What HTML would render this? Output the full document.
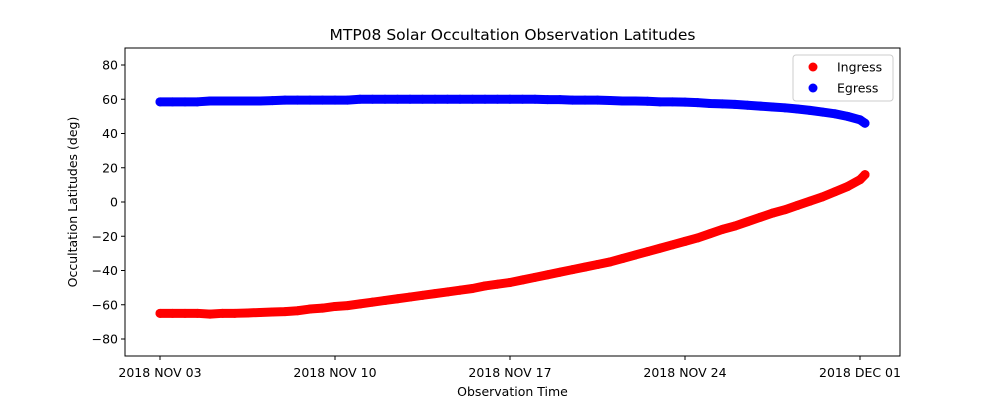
<!DOCTYPE html>
<html><head><meta charset="utf-8"><style>
body{margin:0;background:#fff;}
svg{display:block;font-family:"DejaVu Sans","Liberation Sans",sans-serif;}
</style></head><body>
<svg id="chart" width="1000" height="400"></svg>
<script>
const days = [0,0.5,1,1.5,2,2.5,3,3.5,4,4.5,5,5.5,6,6.5,7,7.5,8,8.5,9,9.5,10,10.5,11,11.5,12,12.5,13,13.5,14,14.5,15,15.5,16,16.5,17,17.5,18,18.5,19,19.5,20,20.5,21,21.5,22,22.5,23,23.5,24,24.5,25,25.5,26,26.5,27,27.5,28,28.2];
const ingress = [-65,-65,-65,-65,-65.5,-65,-65,-64.8,-64.5,-64.2,-64,-63.5,-62.5,-62,-61,-60.5,-59.5,-58.5,-57.5,-56.5,-55.5,-54.5,-53.5,-52.5,-51.5,-50.5,-49,-48,-47,-45.5,-44,-42.5,-41,-39.5,-38,-36.5,-35,-33,-31,-29,-27,-25,-23,-21,-18.5,-16,-14,-11.5,-9,-6.5,-4.5,-2,0.5,3,6,9,13,16];
const egress = [58.5,58.5,58.5,58.5,59,59,59,59,59,59.2,59.5,59.5,59.5,59.5,59.5,59.5,60,60,60,60,60,60,60,60,60,60,60,60,60,60,60,59.8,59.8,59.5,59.5,59.5,59.3,59,59,58.8,58.5,58.5,58.3,58,57.5,57.3,57,56.5,56,55.5,55,54.3,53.5,52.5,51.5,50,48,46];
const yTicks = [-80,-60,-40,-20,0,20,40,60,80];
const xTickDays = [0,7,14,21,28];
const xTickLabels = ["2018 NOV 03","2018 NOV 10","2018 NOV 17","2018 NOV 24","2018 DEC 01"];

const NS="http://www.w3.org/2000/svg";
const svg=document.getElementById('chart');
const L=125,R=900,T=48,B=356;
const x=d=>160+d*25;
const y=v=>202-v*1.7125;
function mk(tag,attrs,parent){const e=document.createElementNS(NS,tag);for(const k in attrs)e.setAttribute(k,attrs[k]);(parent||svg).appendChild(e);return e;}

const title=mk('text',{x:512.5,y:40,'text-anchor':'middle','font-size':15.5,fill:'#000'});
title.textContent='MTP08 Solar Occultation Observation Latitudes';



yTicks.forEach(v=>{
  const g=mk('g',{});
  
  
  mk('line',{x1:L-4,x2:L,y1:y(v),y2:y(v),stroke:'#000'},g);
  const t=mk('text',{x:L-7,y:y(v)+4.5,'text-anchor':'end','font-size':12.5},g);
  t.textContent=v<0?'\u2212'+Math.abs(v):String(v);
});
xTickDays.forEach((d,i)=>{
  const g=mk('g',{});
  
  
  mk('line',{x1:x(d),x2:x(d),y1:B,y2:B+4,stroke:'#000'},g);
  const t=mk('text',{x:x(d),y:B+21,'text-anchor':'middle','font-size':12.5},g);
  t.textContent=xTickLabels[i];
});
const xl=mk('text',{x:512.5,y:396,'text-anchor':'middle','font-size':12.5});
xl.textContent='Observation Time';


const yl=mk('text',{x:77,y:202,'text-anchor':'middle','font-size':12.5,transform:'rotate(-90 77 202)'});
yl.textContent='Occultation Latitudes (deg)';



function series(vals,color,name){
  const g=mk('g',{fill:color});
  
  
  const pts=days.map((d,i)=>x(d)+','+y(vals[i])).join(' ');
  const pl=mk('polyline',{points:pts,fill:'none',stroke:color,'stroke-width':9,'stroke-linecap':'round','stroke-linejoin':'round'},g);
  
  
  days.forEach((d,i)=>{
    const c=mk('circle',{cx:x(d),cy:y(vals[i]),r:4.5},g);
    
    
  });
}
series(ingress,'#ff0000','ingress');
series(egress,'#0000ff','egress');

const frame=mk('rect',{x:L,y:T,width:R-L,height:B-T,fill:'none',stroke:'#000','stroke-width':1});



const lg=mk('g',{});


mk('rect',{x:793,y:55,width:100,height:46,rx:3,fill:'#fff','fill-opacity':0.8,stroke:'#ccc'},lg);
[['Ingress','#ff0000',67],['Egress','#0000ff',88]].forEach(([n,c,yy])=>{
  const e=mk('g',{},lg);
  
  
  mk('circle',{cx:813,cy:yy,r:4.5,fill:c},e);
  const t=mk('text',{x:837,y:yy+4.5,'font-size':12.5},e);
  t.textContent=n;
});
</script>
</body></html>
